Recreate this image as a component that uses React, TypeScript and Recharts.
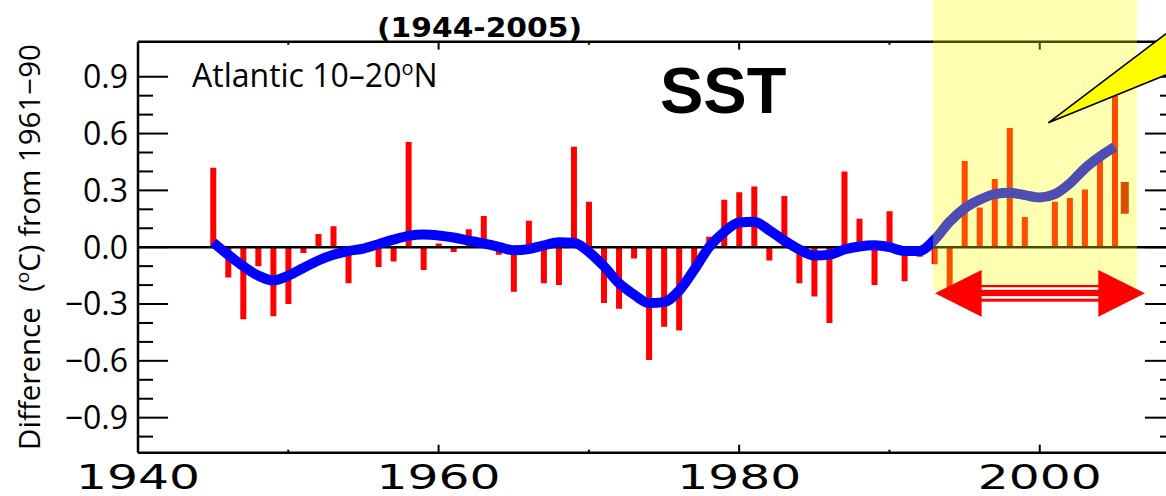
import React from 'react';
import {
  ComposedChart,
  Bar,
  Line,
  XAxis,
  YAxis,
  ReferenceLine,
  ReferenceArea,
  ReferenceDot,
} from 'recharts';

// yearly SST anomalies, Atlantic 10-20N, 1945..2005
const firstYear = 1945;
const anomalies = [
  0.42, -0.16, -0.38, -0.1, -0.365, -0.3, -0.03, 0.07, 0.11, -0.19,
  0, -0.105, -0.075, 0.555, -0.12, 0.02, -0.025, 0.095, 0.165, -0.04,
  -0.235, 0.14, -0.19, -0.2, 0.53, 0.24, -0.295, -0.325, -0.06, -0.595,
  -0.42, -0.44, -0.13, 0.055, 0.25, 0.29, 0.32, -0.07, 0.27, -0.19,
  -0.26, -0.4, 0.4, 0.15, -0.2, 0.19, -0.18, -0.05, -0.09, -0.22,
  0.455, 0.21, 0.36, 0.63, 0.16, 0, 0.24, 0.26, 0.305, 0.48, 0.8,
];
// smoothed curve, same years
const smoothed = [
  0.025, -0.04, -0.1, -0.15, -0.175, -0.15, -0.11, -0.07, -0.04, -0.02,
  -0.007, 0.016, 0.04, 0.06, 0.067, 0.062, 0.051, 0.035, 0.02, 0.002,
  -0.016, -0.01, 0.01, 0.026, 0.023, -0.025, -0.1, -0.19, -0.25, -0.295,
  -0.29, -0.23, -0.12, 0.0, 0.08, 0.13, 0.134, 0.09, 0.035, -0.012,
  -0.044, -0.039, -0.012, 0.004, 0.01, 0.0, -0.02, -0.02, 0.04, 0.134,
  0.205, 0.25, 0.28, 0.287, 0.275, 0.263, 0.28, 0.336, 0.416, 0.478, 0.53,
];
// the short floating bar at the end
const provisionalYear = 2005.65;
const provisionalRange = [0.177, 0.344];

const xTicks = [1940, 1960, 1980, 2000];
const xMinorTicks = [1950, 1970, 1990];
const yTicks = [-0.9, -0.6, -0.3, 0, 0.3, 0.6, 0.9];
const yMinorTicks = [-1.0, -0.8, -0.7, -0.5, -0.4, -0.2, -0.1, 0.1, 0.2, 0.4, 0.5, 0.7, 0.8];

const X_MIN = 1940;
const X_MAX = 2009;
const Y_MAX = 1.085;

// highlighted period, arrow and callout (data coords)
const highlight = { x1: 1992.9, x2: 2006.47, y1: -0.23, y2: 1.31 };
const arrowBox = { x1: 1993.03, x2: 2007.0, y1: -0.367, y2: -0.12 };
const calloutTip = { x: 2000.57, y: 0.657 };

const data: any[] = anomalies.map((v, i) => ({
  year: firstYear + i,
  anom: v,
  smooth: smoothed[i],
}));
data.push({ year: provisionalYear, range: provisionalRange });

const fmtY = (v: number) => (v < 0 ? '\u2212' : '') + Math.abs(v).toFixed(1);

const YearTick = (props: any) => {
  const { x, y, payload } = props;
  return (
    <text
      x={x}
      y={y + 36}
      textAnchor="middle"
      fontFamily="DejaVu Sans"
      fontSize={33}
      fill="#000"
      textLength={124}
      lengthAdjust="spacingAndGlyphs"
    >
      {payload.value}
    </text>
  );
};

const DoubleArrow = (props: any) => {
  const { x, y, width: w, height: h } = props;
  const head = w * 0.222;
  const cy = y + h / 2;
  return (
    <g>
      <polygon points={`${x},${cy} ${x + head},${y} ${x + head},${y + h}`} fill="#ff0000" />
      <polygon
        points={`${x + w},${cy} ${x + w - head},${y} ${x + w - head},${y + h}`}
        fill="#ff0000"
      />
      <rect x={x + head - 1} y={y + h * 0.321} width={w - 2 * head + 2} height={h * 0.358} fill="#ff0000" />
      <rect x={x + head} y={y + h * 0.37} width={w - 2 * head} height={h * 0.055} fill="#fff" />
      <rect x={x + head} y={y + h * 0.56} width={w - 2 * head} height={h * 0.055} fill="#fff" />
    </g>
  );
};

const Callout = (props: any) => {
  const { cx, cy } = props;
  return (
    <polygon
      points={`${cx},${cy} ${cx + 135},${cy - 102} ${cx + 135},${cy - 55}`}
      fill="#ffff00"
      stroke="#000"
      strokeWidth={1.6}
    />
  );
};

const seg = (x1: number, y1: number, x2: number, y2: number) => [
  { x: x1, y: y1 },
  { x: x2, y: y2 },
];

export default function App() {
  const tickProps = { stroke: '#000', strokeWidth: 2, zIndex: 500 } as any;
  return (
    <div
      style={{
        position: 'absolute',
        left: 0,
        top: 0,
        width: 1166,
        height: 496,
        overflow: 'hidden',
        background: '#fff',
      }}
    >
      <ComposedChart
        width={1180}
        height={496}
        data={data}
        margin={{ top: 41.7, right: 5, bottom: 3.3, left: 38 }}
      >
        <XAxis
          dataKey="year"
          type="number"
          domain={[X_MIN, X_MAX]}
          ticks={xTicks}
          allowDataOverflow
          height={40}
          tickSize={0}
          tickMargin={0}
          tickLine={false}
          axisLine={{ stroke: '#000', strokeWidth: 2.5 }}
          tick={<YearTick />}
        />
        <XAxis xAxisId="late" dataKey="year" type="number" domain={[X_MIN, X_MAX]} allowDataOverflow hide />
        <YAxis
          type="number"
          domain={[-Y_MAX, Y_MAX]}
          ticks={yTicks}
          allowDataOverflow
          width={100}
          tickSize={0}
          tickMargin={10}
          tickLine={false}
          tickFormatter={fmtY}
          axisLine={{ stroke: '#000', strokeWidth: 2.5 }}
          tick={{ fill: '#000', fontSize: 32, fontFamily: 'Open Sans' }}
        />
        <Bar dataKey="anom" fill="#ff0000" barSize={6} isAnimationActive={false} />
        <Bar
          xAxisId="late"
          dataKey="range"
          fill="#c80000"
          barSize={8}
          isAnimationActive={false}
        />
        <ReferenceLine y={0} stroke="#000" strokeWidth={2.5} zIndex={350} />
        <ReferenceLine y={Y_MAX} stroke="#000" strokeWidth={2.5} zIndex={500} />
        <Line
          type="monotone"
          dataKey="smooth"
          stroke="#0000ff"
          strokeWidth={10}
          dot={false}
          activeDot={false}
          strokeLinecap="butt"
          isAnimationActive={false}
        />
        {yTicks.map((v) => (
          <ReferenceLine key={'lM' + v} segment={seg(X_MIN, v, X_MIN + 2, v)} {...tickProps} />
        ))}
        {yMinorTicks.map((v) => (
          <ReferenceLine key={'lm' + v} segment={seg(X_MIN, v, X_MIN + 1, v)} {...tickProps} />
        ))}
        {yTicks.map((v) => (
          <ReferenceLine key={'rM' + v} segment={seg(X_MAX - 2, v, X_MAX, v)} {...tickProps} />
        ))}
        {yMinorTicks.map((v) => (
          <ReferenceLine key={'rm' + v} segment={seg(X_MAX - 1, v, X_MAX, v)} {...tickProps} />
        ))}
        {xTicks.slice(1).map((t) => (
          <ReferenceLine key={'bM' + t} segment={seg(t, -Y_MAX, t, -Y_MAX + 0.042)} {...tickProps} />
        ))}
        {xMinorTicks.map((t) => (
          <ReferenceLine key={'bm' + t} segment={seg(t, -Y_MAX, t, -Y_MAX + 0.016)} {...tickProps} />
        ))}
        {xTicks.slice(1).map((t) => (
          <ReferenceLine key={'tM' + t} segment={seg(t, Y_MAX, t, Y_MAX - 0.042)} {...tickProps} />
        ))}
        {xMinorTicks.map((t) => (
          <ReferenceLine key={'tm' + t} segment={seg(t, Y_MAX, t, Y_MAX - 0.016)} {...tickProps} />
        ))}
        <ReferenceArea
          x1={highlight.x1}
          x2={highlight.x2}
          y1={highlight.y1}
          y2={highlight.y2}
          fill="#ffff00"
          fillOpacity={0.3}
          stroke="none"
          ifOverflow="visible"
          zIndex={1000}
        />
        <ReferenceArea
          x1={arrowBox.x1}
          x2={arrowBox.x2}
          y1={arrowBox.y1}
          y2={arrowBox.y2}
          ifOverflow="visible"
          shape={<DoubleArrow />}
          zIndex={1100}
        />
        <ReferenceDot
          x={calloutTip.x}
          y={calloutTip.y}
          ifOverflow="visible"
          shape={<Callout />}
          zIndex={1100}
        />
      </ComposedChart>
      <svg
        width={1166}
        height={496}
        style={{ position: 'absolute', left: 0, top: 0, pointerEvents: 'none' }}
      >
        <text
          x={377}
          y={37}
          fontFamily="DejaVu Sans"
          fontWeight="bold"
          fontSize={27}
          textLength={205}
          lengthAdjust="spacingAndGlyphs"
        >
          (1944-2005)
        </text>
        <text x={660} y={113} fontFamily="Liberation Sans" fontWeight="bold" fontSize={65}>
          SST
        </text>
        <text x={192} y={87} fontFamily="Open Sans" fontSize={32}>
          Atlantic 10–20
          <tspan dy={-12} fontSize={20}>o</tspan>
          <tspan dy={12}>N</tspan>
        </text>
        <text
          transform="translate(40, 247) rotate(-90)"
          textAnchor="middle"
          fontFamily="Open Sans"
          fontSize={29.5}
        >
          {'Difference\u00a0\u00a0('}
          <tspan dy={-11} fontSize={19}>o</tspan>
          <tspan dy={11}>C) from 1961−90</tspan>
        </text>
      </svg>
    </div>
  );
}
